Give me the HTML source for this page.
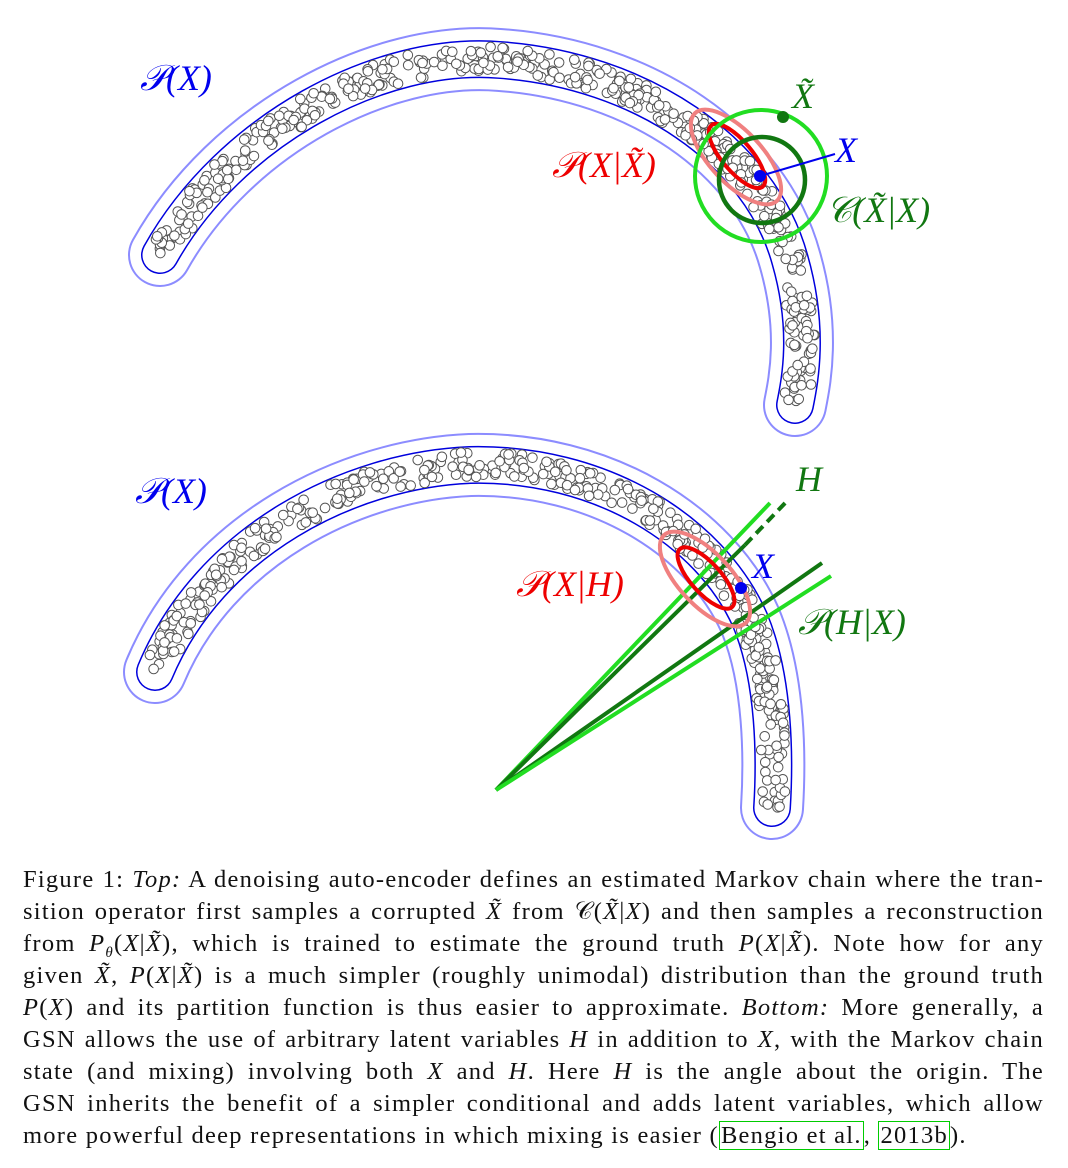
<!DOCTYPE html>
<html><head><meta charset="utf-8">
<style>
body{margin:0;background:#fff;width:1068px;height:1168px;overflow:hidden;position:relative;font-family:"Liberation Serif",serif;}
svg{position:absolute;left:0;top:0}
.cap{position:absolute;left:23px;width:1021px;font-size:24.5px;letter-spacing:1.25px;line-height:32px;color:#111;}
.ln{display:block;text-align:justify;text-align-last:justify;white-space:nowrap;height:32px}
.ln.last{text-align-last:left}
i{font-style:italic}
.lk{border:1px solid #0c0;padding:0 1px}
</style></head><body>
<svg width="1068" height="850" font-family="Liberation Serif, serif" font-style="italic">
<g id="top"></g>
<g id="bot"></g>
<g>
<ellipse cx="736" cy="157" rx="60" ry="26" transform="rotate(47 736 157)" fill="none" stroke="#f08080" stroke-width="4"/>
<ellipse cx="737" cy="156" rx="40" ry="15" transform="rotate(50 737 156)" fill="none" stroke="#e00" stroke-width="4"/>
<circle cx="761" cy="176" r="66" fill="none" stroke="#22dd22" stroke-width="4"/>
<circle cx="762" cy="180" r="43" fill="none" stroke="#117711" stroke-width="4.5"/>
<line x1="760" y1="176" x2="835" y2="154" stroke="#0000ee" stroke-width="2"/>
<circle cx="760" cy="176" r="6" fill="#0000ee"/>
<circle cx="783" cy="117" r="6" fill="#117711"/>
<text x="140" y="90" font-size="36" fill="#0000ee">𝒫(X)</text>
<text x="792" y="108" font-size="36" fill="#117711">X̃</text>
<text x="835" y="162" font-size="36" fill="#0000ee">X</text>
<text x="552" y="177" font-size="36" fill="#e00">𝒫(X|X̃)</text>
<text x="826" y="222" font-size="36" fill="#117711">𝒞(X̃|X)</text>
</g>
<g>
<line x1="496" y1="790" x2="770" y2="503" stroke="#22dd22" stroke-width="4"/>
<line x1="496" y1="790" x2="745" y2="545" stroke="#117711" stroke-width="4"/>
<line x1="745" y1="545" x2="788" y2="500" stroke="#117711" stroke-width="4" stroke-dasharray="10,6"/>
<line x1="496" y1="790" x2="822" y2="563" stroke="#117711" stroke-width="4"/>
<line x1="496" y1="790" x2="831" y2="576" stroke="#22dd22" stroke-width="4"/>
<ellipse cx="705" cy="579" rx="60" ry="26" transform="rotate(47 705 579)" fill="none" stroke="#f08080" stroke-width="4"/>
<ellipse cx="706" cy="578" rx="39" ry="15" transform="rotate(48 706 578)" fill="none" stroke="#e00" stroke-width="4"/>
<circle cx="741" cy="588" r="6" fill="#0000ee"/>
<text x="135" y="503" font-size="36" fill="#0000ee">𝒫(X)</text>
<text x="796" y="491" font-size="36" fill="#117711">H</text>
<text x="752" y="578" font-size="36" fill="#0000ee">X</text>
<text x="516" y="596" font-size="36" fill="#e00">𝒫(X|H)</text>
<text x="798" y="634" font-size="36" fill="#117711">𝒫(H|X)</text>
</g>
</svg>
<div class="cap" style="top:864px">
<span class="ln">Figure 1: <i>Top:</i> A denoising auto-encoder defines an estimated Markov chain where the tran-</span>
<span class="ln">sition operator first samples a corrupted <i>X̃</i> from 𝒞(<i>X̃</i>|<i>X</i>) and then samples a reconstruction</span>
<span class="ln">from <i>P</i><sub style="font-size:15px"><i>θ</i></sub>(<i>X</i>|<i>X̃</i>), which is trained to estimate the ground truth <i>P</i>(<i>X</i>|<i>X̃</i>). Note how for any</span>
<span class="ln">given <i>X̃</i>, <i>P</i>(<i>X</i>|<i>X̃</i>) is a much simpler (roughly unimodal) distribution than the ground truth</span>
<span class="ln"><i>P</i>(<i>X</i>) and its partition function is thus easier to approximate. <i>Bottom:</i> More generally, a</span>
<span class="ln">GSN allows the use of arbitrary latent variables <i>H</i> in addition to <i>X</i>, with the Markov chain</span>
<span class="ln">state (and mixing) involving both <i>X</i> and <i>H</i>. Here <i>H</i> is the angle about the origin. The</span>
<span class="ln">GSN inherits the benefit of a simpler conditional and adds latent variables, which allow</span>
<span class="ln last">more powerful deep representations in which mixing is easier (<span class="lk">Bengio et al.</span>, <span class="lk">2013b</span>).</span>
</div>
<script>
const NS="http://www.w3.org/2000/svg";
const topPath="M160,255 C230,130 380,50 500,60 C640,70 760,150 790,260 C810,330 800,380 795,405";
const botPath="M155,672 C210,540 350,470 470,465 C600,462 710,530 750,620 C775,680 775,760 772,808";
const pointCounts=[480,450];
function band(g,d,count,seed){
  const layers=[[64,"#8c8cff"],[60,"#fff"],[38,"#0000dd"],[35,"#fff"]];
  layers.forEach(([w,c])=>{
    const p=document.createElementNS(NS,"path");
    p.setAttribute("d",d);p.setAttribute("fill","none");p.setAttribute("stroke",c);
    p.setAttribute("stroke-width",w);p.setAttribute("stroke-linecap","round");
    
    
    g.appendChild(p);
  });
  const ref=g.lastChild;const L=ref.getTotalLength();
  let s=seed;const rnd=()=>{s=(s*1103515245+12345)%2147483648;return s/2147483648;};
  for(let i=0;i<count;i++){
    const t=rnd()*L;const a=ref.getPointAtLength(t),b=ref.getPointAtLength(Math.min(L,t+1));
    let dx=b.x-a.x,dy=b.y-a.y;const n=Math.hypot(dx,dy)||1;
    const off=(rnd()*2-1)*13;
    const c=document.createElementNS(NS,"circle");
    c.setAttribute("cx",a.x-dy/n*off);c.setAttribute("cy",a.y+dx/n*off);c.setAttribute("r",4.8);
    c.setAttribute("fill","#fff");c.setAttribute("stroke","#555");c.setAttribute("stroke-width","1");
    
    
    g.appendChild(c);
  }
}
band(document.getElementById("top"),topPath,pointCounts[0],12345);
band(document.getElementById("bot"),botPath,pointCounts[1],98765);
</script>
</body></html>
